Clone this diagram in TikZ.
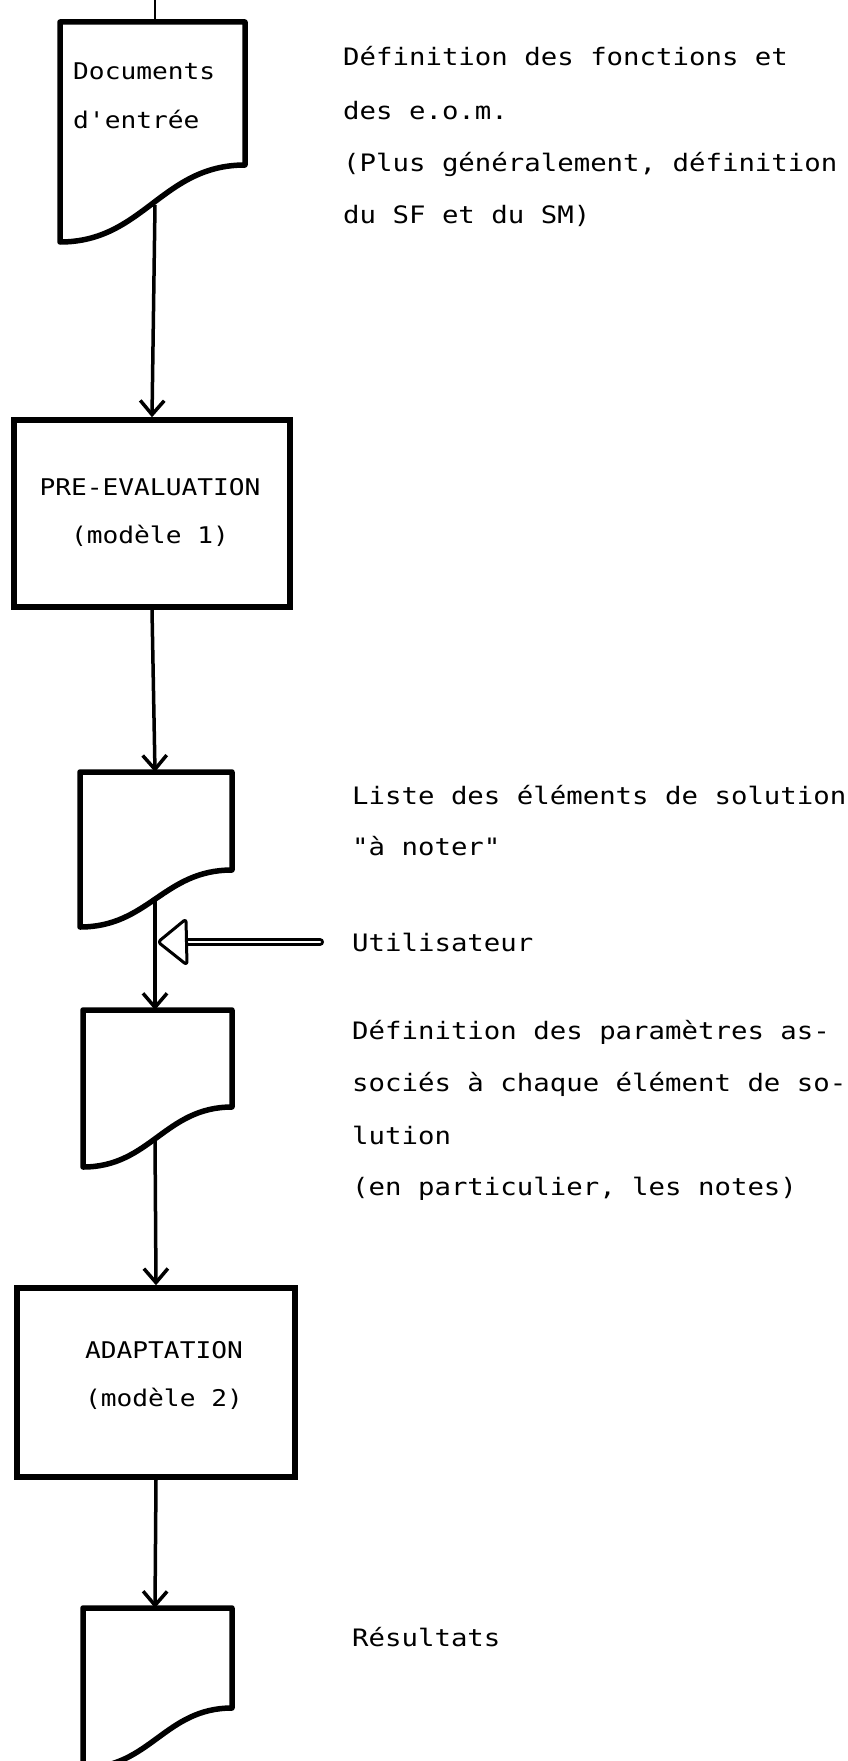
\documentclass[tikz,border=0pt]{standalone}
\usepackage{fontspec}
\newfontfamily\typew[FakeStretch=1.14]{DejaVu Sans Mono}
\usetikzlibrary{arrows.meta}
\newcommand\mydocshape[5]{% L R top rb lb
  \draw[docline] (#1,#5) -- (#1,#3) -- (#2,#3) -- (#2,#4)
    .. controls ({#2-0.45*(#2-#1)},#4) and ({#1+0.45*(#2-#1)},#5) .. (#1,#5) -- cycle;}
\begin{document}
\begin{tikzpicture}[x=1pt,y=-1pt,
  txt/.style={font=\typew\fontsize{24}{52}\selectfont, anchor=base west, inner sep=0pt},
  doctxt/.style={font=\typew\fontsize{23}{48}\selectfont, anchor=base west, inner sep=0pt},
  boxtxt/.style={font=\typew\fontsize{23}{48}\selectfont, align=center, inner sep=0pt},
  boxnode/.style={draw, line width=5.5pt, inner sep=0pt},
  docline/.style={draw, line width=5.5pt, line join=round},
  flow/.style={line width=3.5pt, -{Straight Barb[length=14pt,width=24pt,line width=3.5pt]}}]
\fill[white] (0,0) rectangle (848,1761);
\useasboundingbox (0,0) rectangle (848,1761);

% documents (shapes)
\mydocshape{60}{245}{22}{165}{242}
\mydocshape{80}{232}{772}{870}{927}
\mydocshape{83}{232}{1010}{1107}{1167}
\begin{scope}
\clip (0,0) rectangle (848,1761);
\mydocshape{83}{232}{1608}{1708}{1768}
\end{scope}

% connection points of documents
\coordinate (d1top) at (155,22);
\coordinate (d1bot) at (155,205);
\coordinate (d3top) at (155,772);
\coordinate (d3bot) at (155,898);
\coordinate (d4top) at (155,1010);
\coordinate (d4bot) at (155,1138);
\coordinate (d6top) at (155,1608);
\coordinate (intop) at (155,0);
\coordinate (utiltip) at (158,942);
\coordinate (utilend) at (320,942);

% document texts
\node[doctxt] (doctxt1) at (73,80) {Documents};
\node[doctxt] (doctxt2) at (73,128) {d'entrée};

% process boxes
\node[boxnode, minimum width=276pt, minimum height=187pt] (preeval) at (152,513.5) {};
\node[boxtxt] (preevaltxt) at (150,512) {PRE-EVALUATION\\(modèle 1)};
\node[boxnode, minimum width=278pt, minimum height=189pt] (adapt) at (156,1382.5) {};
\node[boxtxt] (adapttxt) at (164,1375) {ADAPTATION\\(modèle 2)};

% connectors
\draw[line width=2pt] (intop) -- (d1top);
\draw[flow] (d1bot) -- (preeval.north);
\draw[flow] (preeval.south) -- (d3top);
\draw[flow] (d3bot) -- (d4top);
\draw[flow] (d4bot) -- (adapt.north);
\draw[flow] (adapt.south) -- (d6top);

% user input arrow
\draw[double=white, double distance=2.5pt, line width=2.8pt, line cap=round] (180,942) -- (utilend);
\draw[line width=3pt, line join=round, fill=white, rounded corners=3pt]
  (utiltip) -- (186,919) -- (187,965) -- cycle;

% right-hand texts
\node[txt] (t1) at (343,66) {Définition des fonctions et};
\node[txt] (t2) at (343,119) {des e.o.m.};
\node[txt] (t3) at (343,171) {(Plus généralement, définition};
\node[txt] (t4) at (343,223) {du SF et du SM)};
\node[txt] (t5) at (352,804) {Liste des éléments de solution};
\node[txt] (t6) at (352,855) {"à noter"};
\node[txt] (t7) at (352,951) {Utilisateur};
\node[txt] (t8) at (352,1039) {Définition des paramètres as-};
\node[txt] (t9) at (352,1091) {sociés à chaque élément de so-};
\node[txt] (t10) at (352,1144) {lution};
\node[txt] (t11) at (352,1195) {(en particulier, les notes)};
\node[txt] (t12) at (352,1646) {Résultats};
\end{tikzpicture}
\end{document}
